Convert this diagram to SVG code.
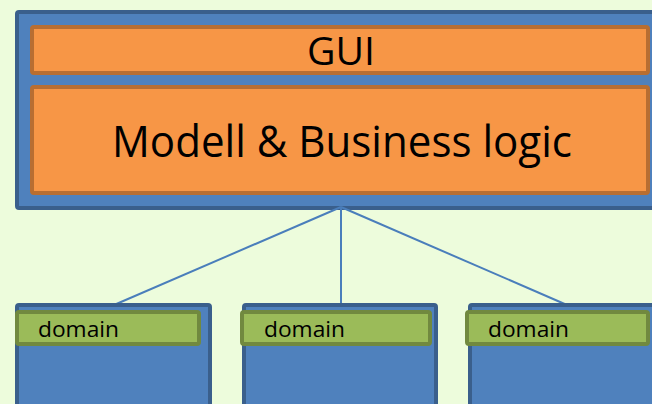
<svg xmlns="http://www.w3.org/2000/svg" width="652" height="404" viewBox="0 0 652 404">
<style>
.blue{fill:#4F81BD;stroke:#3A5F8C;stroke-width:4}
.orange{fill:#F79646;stroke:#B86E32;stroke-width:4}
.green{fill:#9BBB59;stroke:#71893F;stroke-width:4}
.conn{stroke:#4A7EBB;stroke-width:2;fill:none}
.t{font-family:"Open Sans",Lato,sans-serif;fill:#000}
.d{font-size:22.5px}
</style>
<rect width="652" height="404" fill="#EDFCDC"/>
<g id="system">
<rect class="blue" x="17" y="12" width="650" height="196" rx="2"/>
<g id="gui">
<rect class="orange" x="32" y="27" width="616" height="46" rx="2"/>
<text class="t" x="341" y="65" font-size="38" text-anchor="middle" textLength="68" lengthAdjust="spacingAndGlyphs">GUI</text>
</g>
<g id="model">
<rect class="orange" x="32" y="87" width="616" height="106" rx="2"/>
<text class="t" x="342" y="157" font-size="44" text-anchor="middle" textLength="460" lengthAdjust="spacingAndGlyphs">Modell &amp; Business logic</text>
</g>
</g>
<g id="connectors">
<line class="conn" x1="341" y1="207" x2="114" y2="305"/>
<line class="conn" x1="341" y1="207" x2="341" y2="305"/>
<line class="conn" x1="341" y1="207" x2="567" y2="305"/>
</g>
<g id="domain1">
<rect class="blue" x="17" y="305" width="193" height="110" rx="2"/>
<rect class="green" x="17" y="312" width="182" height="32" rx="2"/>
<text class="t d" x="38" y="337" textLength="81" lengthAdjust="spacingAndGlyphs">domain</text>
</g>
<g id="domain2">
<rect class="blue" x="244" y="305" width="192" height="110" rx="2"/>
<rect class="green" x="242" y="312" width="188" height="32" rx="2"/>
<text class="t d" x="264" y="337" textLength="81" lengthAdjust="spacingAndGlyphs">domain</text>
</g>
<g id="domain3">
<rect class="blue" x="470" y="305" width="200" height="110" rx="2"/>
<rect class="green" x="467" y="312" width="181" height="32" rx="2"/>
<text class="t d" x="488" y="337" textLength="81" lengthAdjust="spacingAndGlyphs">domain</text>
</g>
</svg>
